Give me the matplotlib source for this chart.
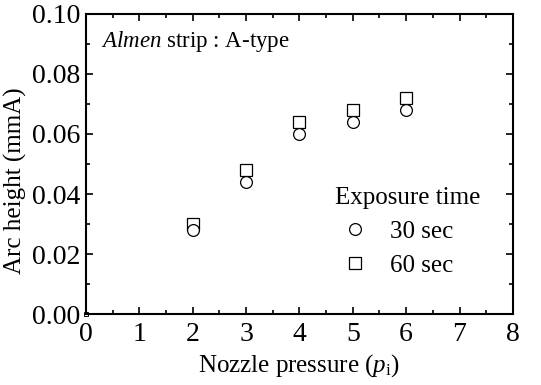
import matplotlib
matplotlib.use("Agg")
import matplotlib.pyplot as plt
from matplotlib.ticker import MultipleLocator

plt.rcParams['font.family'] = ['Liberation Serif', 'DejaVu Serif']
plt.rcParams['mathtext.fontset'] = 'custom'
plt.rcParams['mathtext.rm'] = 'Liberation Serif'
plt.rcParams['mathtext.it'] = 'Liberation Serif:italic'

pressure = [2, 3, 4, 5, 6]
arc_30 = [0.028, 0.044, 0.060, 0.064, 0.068]
arc_60 = [0.030, 0.048, 0.064, 0.068, 0.072]
labels = ["30 sec", "60 sec"]

fig = plt.figure(figsize=(5.41, 3.85), dpi=100)
ax = fig.add_axes([0.159, 0.184, 0.789, 0.78])

ax.plot(pressure, arc_30, linestyle='none', marker='o', markersize=8.5,
        markerfacecolor='white', markeredgecolor='black', markeredgewidth=0.9, label=labels[0], zorder=3)
ax.plot(pressure, arc_60, linestyle='none', marker='s', markersize=8,
        markerfacecolor='white', markeredgecolor='black', markeredgewidth=0.9, label=labels[1], zorder=2)
ax.plot([0], [0], linestyle='none', marker='s', markersize=3,
        markerfacecolor='white', markeredgecolor='black', markeredgewidth=0.7, clip_on=False)

ax.set_xlim(0, 8)
ax.set_ylim(0, 0.10)
ax.xaxis.set_major_locator(MultipleLocator(1))
ax.xaxis.set_minor_locator(MultipleLocator(0.5))
ax.yaxis.set_major_locator(MultipleLocator(0.02))
ax.yaxis.set_minor_locator(MultipleLocator(0.01))
ax.yaxis.set_major_formatter(plt.FormatStrFormatter('%.2f'))
ax.tick_params(which='both', direction='in', top=True, right=True, labelsize=20, width=1.2)
ax.tick_params(axis='y', pad=4)
ax.tick_params(axis='x', pad=6)
ax.tick_params(which='major', length=5)
ax.tick_params(which='minor', length=3)
for s in ax.spines.values():
    s.set_linewidth(1.5)

ax.set_xlabel(r"Nozzle pressure ($p_{\mathrm{i}}$)", fontsize=18, labelpad=3)
ax.set_ylabel("Arc height (mmA)", fontsize=18)
ax.yaxis.set_label_coords(-0.138, 0.443)

ax.text(0.035, 0.907, r"$\mathit{Almen}$ strip : A-type", transform=ax.transAxes,
        fontsize=16.5, ha='left', va='center')

leg = ax.legend(loc='upper left', bbox_to_anchor=(0.555, 0.465), frameon=False, fontsize=18,
                title="Exposure time", title_fontsize=18, handletextpad=0.6,
                labelspacing=0.45, borderpad=0, handlelength=1.6)
leg._legend_box.align = "left"

fig.savefig("out.png", dpi=100)
